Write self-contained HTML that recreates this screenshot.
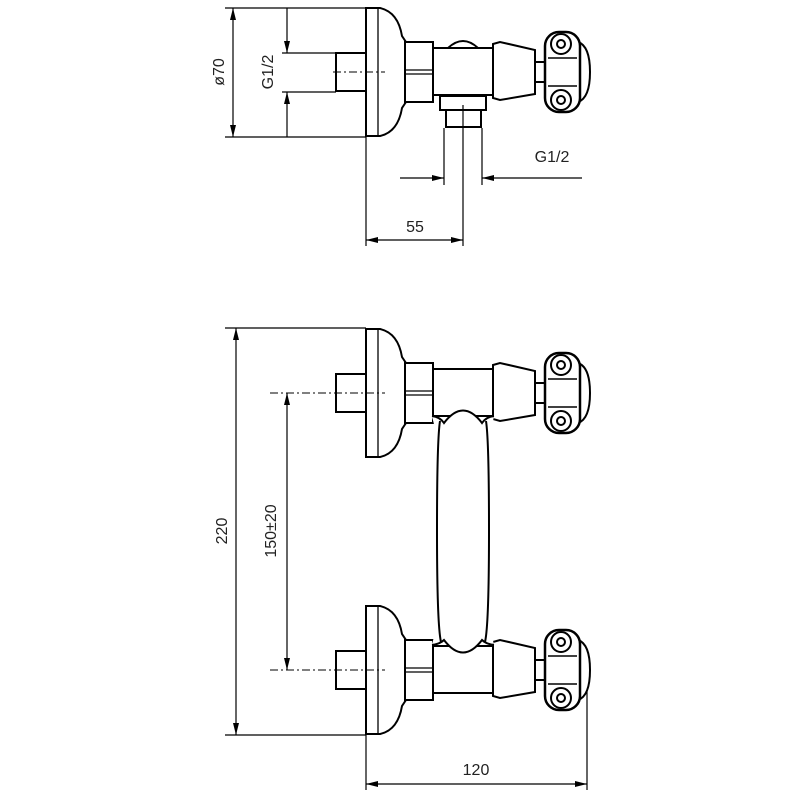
<!DOCTYPE html>
<html><head><meta charset="utf-8"><style>html,body{margin:0;padding:0;background:#fff}svg{display:block}</style></head>
<body>
<svg width="800" height="800" viewBox="0 0 800 800" xmlns="http://www.w3.org/2000/svg">
<defs>
<marker id="a" viewBox="0 0 12 6" refX="12" refY="3" markerWidth="12" markerHeight="6" orient="auto-start-reverse" markerUnits="userSpaceOnUse"><path d="M0,0 L12,3 L0,6 z" fill="#000"/></marker>
<g id="u" fill="#fff" stroke="#000" stroke-width="2">
<path d="M366,-64 L380,-64 Q398,-60 402,-36 L406,-30 L406,30 L402,36 Q398,60 380,64 L366,64 Z"/>
<line x1="378" y1="-64" x2="378" y2="64" stroke-width="1.3"/>
<rect x="336" y="-19" width="30" height="38"/>
<rect x="405" y="-30" width="28" height="60"/>
<line x1="405" y1="-2" x2="433" y2="-2" stroke-width="1.3"/>
<line x1="405" y1="2" x2="433" y2="2" stroke-width="1.3"/>
<rect x="433" y="-24" width="60" height="47"/>
<path d="M493,-28 L500,-30 L535,-22 L535,22 L500,28 L493,26 Z"/>
<rect x="535" y="-10" width="10" height="20"/>
<path d="M578,-30 Q590,-26 590,0 Q590,26 578,30 Z"/>
<rect x="545" y="-40" width="35" height="80" rx="14" stroke-width="2.5"/>
<line x1="548" y1="-14" x2="577" y2="-14" stroke-width="1.5"/>
<line x1="548" y1="14" x2="577" y2="14" stroke-width="1.5"/>
<circle cx="561" cy="-28" r="10"/><circle cx="561" cy="-28" r="4"/>
<circle cx="561" cy="28" r="10"/><circle cx="561" cy="28" r="4"/>
</g>
</defs>
<g font-family="Liberation Sans, sans-serif" font-size="16" fill="#222">
<!-- top view -->
<path d="M448,48 Q463,34 478,48" fill="#fff" stroke="#000" stroke-width="2"/>
<use href="#u" transform="translate(0,72)"/>
<rect x="440" y="96" width="46" height="14" fill="#fff" stroke="#000" stroke-width="2"/>
<rect x="446" y="110" width="35" height="17" fill="#fff" stroke="#000" stroke-width="2"/>
<line x1="333" y1="72" x2="385" y2="72" stroke="#000" stroke-width="1" stroke-dasharray="8,3,2,3"/>
<g stroke="#000" stroke-width="1.2" fill="none">
<line x1="225" y1="8" x2="366" y2="8"/><line x1="225" y1="137" x2="366" y2="137"/>
<line x1="233" y1="8" x2="233" y2="137" marker-start="url(#a)" marker-end="url(#a)"/>
<line x1="282" y1="53" x2="336" y2="53"/><line x1="282" y1="92" x2="336" y2="92"/>
<line x1="287" y1="8" x2="287" y2="53" marker-end="url(#a)"/>
<line x1="287" y1="137" x2="287" y2="92" marker-end="url(#a)"/>
<line x1="444" y1="128" x2="444" y2="185"/><line x1="482" y1="128" x2="482" y2="185"/>
<line x1="400" y1="178" x2="444" y2="178" marker-end="url(#a)"/>
<line x1="582" y1="178" x2="482" y2="178" marker-end="url(#a)"/>
<line x1="463" y1="105" x2="463" y2="246"/>
<line x1="366" y1="137" x2="366" y2="246"/>
<line x1="366" y1="240" x2="463" y2="240" marker-start="url(#a)" marker-end="url(#a)"/>
</g>
<text transform="translate(224,72) rotate(-90)" text-anchor="middle">ø70</text>
<text transform="translate(273,72) rotate(-90)" text-anchor="middle">G1/2</text>
<text x="552" y="162" text-anchor="middle">G1/2</text>
<text x="415" y="232" text-anchor="middle">55</text>

<!-- bottom view -->
<use href="#u" transform="translate(0,393)"/>
<use href="#u" transform="translate(0,670)"/>
<path d="M432,417 Q440,417 444,423 Q463,398 482,423 Q486,417 494,417 Q487,440 487,530 Q487,625 494,644 Q486,644 482,640 Q463,665 444,640 Q440,644 432,644 Q440,620 440,530 Q440,440 432,417 Z" fill="#fff" stroke="none"/>
<path d="M432,416 Q440,417 444,423 Q463,398 482,423 Q486,417 494,416" fill="none" stroke="#000" stroke-width="2"/>
<path d="M432,645 Q440,644 444,640 Q463,665 482,640 Q486,644 494,645" fill="none" stroke="#000" stroke-width="2"/>
<path d="M440,421 Q437,440 437,530 Q437,625 441,642" fill="none" stroke="#000" stroke-width="2"/>
<path d="M486,421 Q489,440 489,530 Q489,625 485,642" fill="none" stroke="#000" stroke-width="2"/>
<line x1="270" y1="393" x2="385" y2="393" stroke="#000" stroke-width="1" stroke-dasharray="8,3,2,3"/>
<line x1="270" y1="670" x2="385" y2="670" stroke="#000" stroke-width="1" stroke-dasharray="8,3,2,3"/>
<g stroke="#000" stroke-width="1.2" fill="none">
<line x1="225" y1="328" x2="366" y2="328"/><line x1="225" y1="735" x2="366" y2="735"/>
<line x1="236" y1="328" x2="236" y2="735" marker-start="url(#a)" marker-end="url(#a)"/>
<line x1="287" y1="393" x2="287" y2="670" marker-start="url(#a)" marker-end="url(#a)"/>
<line x1="366" y1="735" x2="366" y2="790"/><line x1="587" y1="690" x2="587" y2="790"/>
<line x1="366" y1="784" x2="587" y2="784" marker-start="url(#a)" marker-end="url(#a)"/>
</g>
<text transform="translate(227,531) rotate(-90)" text-anchor="middle">220</text>
<text transform="translate(276,531) rotate(-90)" text-anchor="middle">150±20</text>
<text x="476" y="775" text-anchor="middle">120</text>
</g>
</svg>
</body></html>
